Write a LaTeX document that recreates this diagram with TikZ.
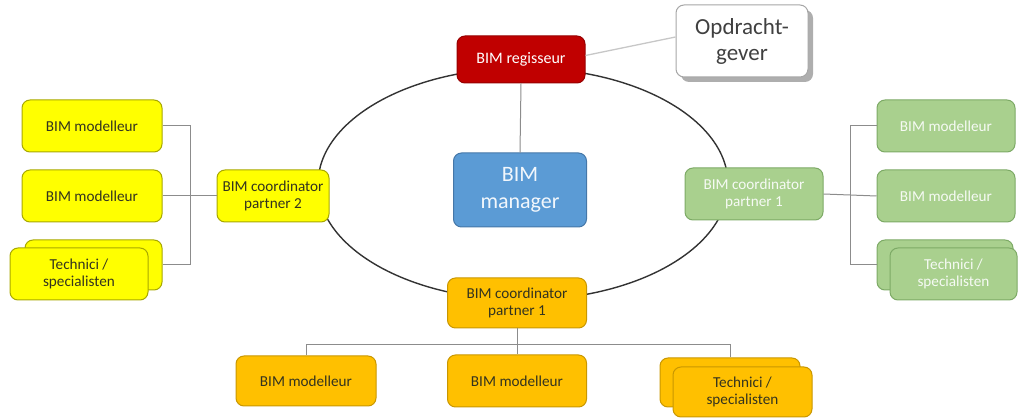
\documentclass[tikz,border=0pt]{standalone}
\usepackage{fontspec}
\setmainfont{Carlito}
\usetikzlibrary{shadows}
\definecolor{yelF}{HTML}{FFFF00}
\definecolor{yelD}{HTML}{A8A800}
\definecolor{orgF}{HTML}{FFC000}
\definecolor{orgD}{HTML}{C99700}
\definecolor{grnF}{HTML}{A9D08E}
\definecolor{grnD}{HTML}{7DAA66}
\definecolor{redF}{HTML}{C00000}
\definecolor{redD}{HTML}{960000}
\definecolor{bluF}{HTML}{5B9BD5}
\definecolor{bluD}{HTML}{4577A8}
\definecolor{txtD}{HTML}{33331F}
\definecolor{conC}{HTML}{8C8C8C}
\tikzset{
  box/.style={rounded corners=8pt, draw, line width=1pt, align=center, inner sep=0pt,
    font=\fontsize{15.2}{17.5}\selectfont},
  ybox/.style={box, fill=yelF, draw=yelD, text=txtD},
  obox/.style={box, fill=orgF, draw=orgD, text=txtD},
  gbox/.style={box, fill=grnF, draw=grnD, text=white!90!grnF},
  conn/.style={draw=conC, line width=1pt},
}
\begin{document}
\begin{tikzpicture}[x=1pt,y=-1pt]
\useasboundingbox (0,0) rectangle (1018,419);
% ring
\draw[line width=1.4pt, black!80] (523,184) ellipse [x radius=205pt, y radius=116pt];

% top
\node[box, fill=redF, draw=redD, text=white, minimum width=128pt, minimum height=47pt,
  font=\fontsize{16}{18}\selectfont] (reg) at (521,59.5) {BIM regisseur};
\node[box, fill=white, draw=black!35, text=black!75, minimum width=132pt, minimum height=72pt,
  font=\fontsize{23}{26}\selectfont,
  drop shadow={shadow xshift=5pt, shadow yshift=-5pt, fill=black!45, opacity=0.7}] (opd) at (742,41) {Opdracht-\\gever};
\draw[draw=black!22, line width=1.3pt] ([yshift=4pt]reg.east) -- ([yshift=4pt]opd.west);

\node[box, fill=bluF, draw=bluD, text=white!92!bluF, minimum width=133pt, minimum height=74pt,
  font=\fontsize{22}{27}\selectfont] (man) at (520,190) {BIM\\manager};
\draw[conn] (reg.south) -- (man.north);

% left (yellow)
\node[ybox, minimum width=112pt, minimum height=52pt] (lc) at (273,196) {BIM coordinator\\partner 2};
\node[ybox, minimum width=140pt, minimum height=52pt] (lm1) at (92,126) {BIM modelleur};
\node[ybox, minimum width=140pt, minimum height=52pt] (lm2) at (92,196) {BIM modelleur};
\node[ybox, minimum width=137pt, minimum height=50pt] (lt2) at (93.5,265) {};
\node[ybox, minimum width=138pt, minimum height=52pt] (lt1) at (79,274) {Technici /\\specialisten};
\coordinate (lb) at (190,196);
\draw[conn] (lm1.east) -| (lb |- lt2.east) -- (lt2.east);
\draw[conn] (lm2.east) -- (lc.west);

% right (green)
\node[gbox, minimum width=138pt, minimum height=52pt] (gc) at (754,194) {BIM coordinator\\partner 1};
\node[gbox, minimum width=138pt, minimum height=52pt] (gm1) at (946,126) {BIM modelleur};
\node[gbox, minimum width=138pt, minimum height=52pt] (gm2) at (946,196) {BIM modelleur};
\node[gbox, minimum width=136pt, minimum height=50pt] (gt2) at (945,265) {};
\node[gbox, minimum width=127pt, minimum height=52pt] (gt1) at (953.5,274) {Technici /\\specialisten};
\coordinate (rb) at (850,196);
\draw[conn] (gm1.west) -| (rb |- gt2.west) -- (gt2.west);
\draw[conn] (gc.east) -- (gm2.west);

% bottom (orange)
\node[obox, minimum width=139pt, minimum height=50pt] (oc) at (517,303) {BIM coordinator\\partner 1};
\node[obox, minimum width=140pt, minimum height=50pt] (om1) at (306,381) {BIM modelleur};
\node[obox, minimum width=139pt, minimum height=52pt] (om2) at (517,381) {BIM modelleur};
\node[obox, minimum width=140pt, minimum height=49pt] (ot2) at (730,382.5) {};
\node[obox, minimum width=139pt, minimum height=50pt] (ot1) at (742.5,392) {Technici /\\specialisten};
\coordinate (ob) at (517,345);
\draw[conn] (om1.north) |- (ot2.north |- ob) -- (ot2.north);
\draw[conn] (oc.south) -- (om2.north);
\end{tikzpicture}
\end{document}
